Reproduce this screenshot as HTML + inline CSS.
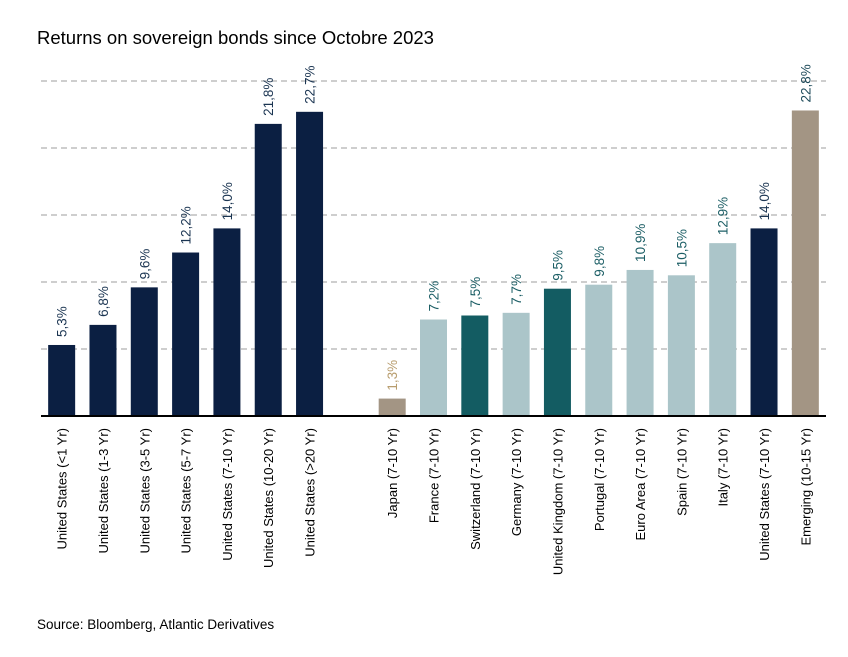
<!DOCTYPE html>
<html><head><meta charset="utf-8"><style>
body{margin:0;background:#fff;}
svg{font-family:"Liberation Sans",sans-serif;}
</style></head><body>
<svg width="848" height="652">
<text x="37" y="44" font-size="18.5" fill="#000">Returns on sovereign bonds since Octobre 2023</text>
<g id="grid"></g>
<g id="bars"></g>
<text x="37" y="629" font-size="13.5" fill="#000">Source: Bloomberg, Atlantic Derivatives</text>
</svg>
<script>
const categories=["United States (<1 Yr)","United States (1-3 Yr)","United States (3-5 Yr)","United States (5-7 Yr)","United States (7-10 Yr)","United States (10-20 Yr)","United States (>20 Yr)","","Japan (7-10 Yr)","France (7-10 Yr)","Switzerland (7-10 Yr)","Germany (7-10 Yr)","United Kingdom (7-10 Yr)","Portugal (7-10 Yr)","Euro Area (7-10 Yr)","Spain (7-10 Yr)","Italy (7-10 Yr)","United States (7-10 Yr)","Emerging (10-15 Yr)"];
const values=[5.3,6.8,9.6,12.2,14.0,21.8,22.7,null,1.3,7.2,7.5,7.7,9.5,9.8,10.9,10.5,12.9,14.0,22.8];
const groups=["us","us","us","us","us","us","us","","tan","light","teal","light","teal","light","light","light","light","us","tan"];
const labelGroups=["us","us","us","us","us","us","us","","tan","light","teal","light","teal","light","light","light","light","us","em"];
const gridTicks=[5,10,15,20,25];
const NS="http://www.w3.org/2000/svg";
const x0=41,x1=826,base=416,ppu=13.4;
const slot=(x1-x0)/categories.length;
const y=v=>base-v*ppu;
const fill={us:"#0b1f42",teal:"#135c62",light:"#abc5c9",tan:"#a39584"};
const lab={us:"#1b3552",teal:"#1d5f66",light:"#1d5f66",tan:"#b89d6e",em:"#1d4a5a"};
function mk(t,a,p){const e=document.createElementNS(NS,t);for(const k in a)e.setAttribute(k,a[k]);p.appendChild(e);return e;}
const g=document.getElementById('grid'),b=document.getElementById('bars');
gridTicks.forEach(t=>{const l=mk('line',{x1:x0,x2:x1,y1:y(t),y2:y(t),stroke:"#bdbdbd","stroke-width":1.5,"stroke-dasharray":"6,4"},g);

});
categories.forEach((c,i)=>{
 const cx=x0+slot*(i+0.5);
 if(values[i]!==null){
  const r=mk('rect',{x:cx-13.5,y:y(values[i]),width:27,height:values[i]*ppu,fill:fill[groups[i]]},b);
  
  
  const ty=y(values[i])-8;
  const t=mk('text',{x:cx+5,y:ty,transform:`rotate(-90 ${cx+5} ${ty})`,"font-size":13.5,fill:lab[labelGroups[i]]},b);
  t.textContent=values[i].toFixed(1).replace('.',',')+'%';
  
  
 }
 if(c){
  const ly=428;
  const t=mk('text',{x:cx+5,y:ly,transform:`rotate(-90 ${cx+5} ${ly})`,"font-size":13,fill:"#000","text-anchor":"end"},b);
  t.textContent=c;
  
  
 }
});
const ax=mk('line',{x1:x0,x2:x1,y1:base,y2:base,stroke:"#000","stroke-width":2},b);


</script>
</body></html>
